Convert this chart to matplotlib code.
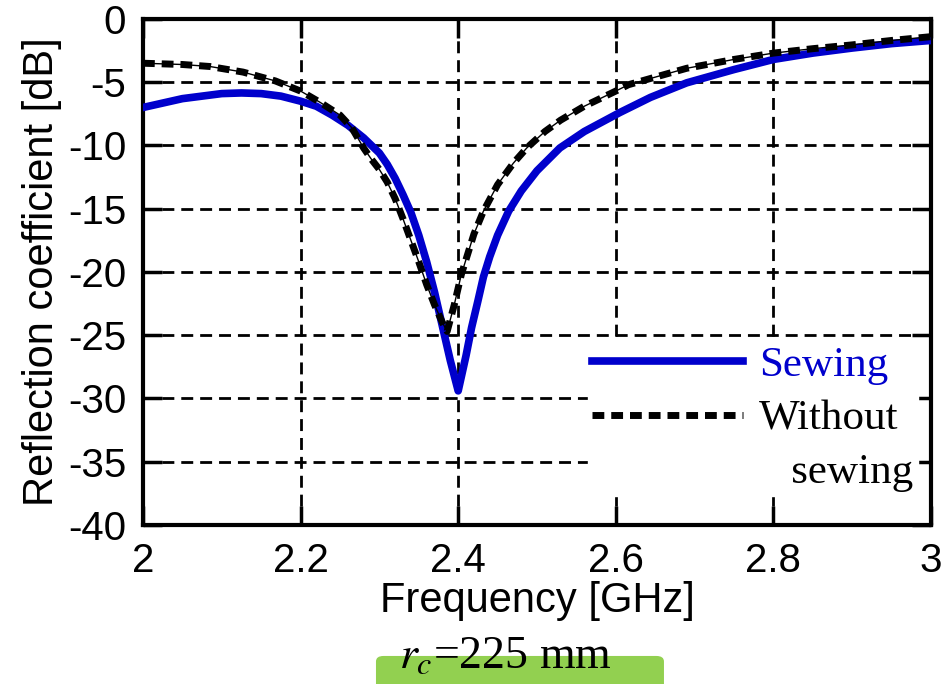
import matplotlib
matplotlib.use("Agg")
import matplotlib.pyplot as plt
from matplotlib.lines import Line2D
from matplotlib.patches import FancyBboxPatch

plt.rcParams["font.family"] = ["Liberation Sans", "DejaVu Sans"]
plt.rcParams["axes.unicode_minus"] = False
plt.rcParams["mathtext.fontset"] = "stix"

# sewing (blue, solid)
freq_sewing = [2.00, 2.05, 2.10, 2.125, 2.15, 2.175, 2.20, 2.22, 2.24, 2.26, 2.27,
               2.28, 2.29, 2.30, 2.31, 2.32, 2.33, 2.34, 2.35, 2.36, 2.37, 2.38,
               2.39, 2.40, 2.405, 2.41, 2.417, 2.425, 2.432, 2.44, 2.45, 2.464,
               2.48, 2.50, 2.529, 2.56, 2.605, 2.644, 2.69, 2.75, 2.80, 2.85,
               2.90, 2.95, 3.00]
s11_sewing = [-7.0, -6.3, -5.9, -5.85, -5.9, -6.1, -6.5, -6.9, -7.6, -8.4, -8.9,
              -9.4, -10.0, -10.6, -11.5, -12.6, -13.9, -15.3, -17.1, -19.2, -21.6, -24.3,
              -27.0, -29.4, -28.0, -26.6, -24.4, -22.3, -20.4, -18.8, -17.1, -15.2,
              -13.6, -12.0, -10.2, -8.9, -7.4, -6.2, -5.05, -4.0, -3.2, -2.7,
              -2.3, -1.95, -1.7]

# without sewing (black, dashed)
freq_plain = [2.00, 2.05, 2.085, 2.127, 2.168, 2.20, 2.225, 2.25, 2.265, 2.28, 2.29,
              2.30, 2.31, 2.32, 2.33, 2.34, 2.35, 2.36, 2.37, 2.38, 2.386, 2.395,
              2.404, 2.42, 2.432, 2.45, 2.47, 2.487, 2.51, 2.53, 2.56, 2.58,
              2.60, 2.616, 2.65, 2.69, 2.75, 2.80, 2.85, 2.90, 2.95, 3.00]
s11_plain = [-3.5, -3.6, -3.76, -4.2, -4.9, -5.7, -6.6, -7.6, -8.6, -10.2, -11.1,
             -11.9, -12.9, -14.2, -15.8, -17.5, -19.2, -21.0, -22.6, -24.0, -24.7, -22.6,
             -20.2, -17.0, -15.2, -13.1, -11.4, -10.2, -8.9, -8.0, -6.9, -6.3,
             -5.7, -5.2, -4.6, -3.9, -3.2, -2.7, -2.35, -2.05, -1.7, -1.4]

x_ticks = [2, 2.2, 2.4, 2.6, 2.8, 3]
x_labels = ["2", "2.2", "2.4", "2.6", "2.8", "3"]
y_ticks = [0, -5, -10, -15, -20, -25, -30, -35, -40]

blue = "#0000cc"

fig = plt.figure(figsize=(9.43, 6.84), dpi=100)
ax = fig.add_axes([0.1516, 0.2325, 0.8357, 0.7398])

ax.plot(freq_sewing, s11_sewing, color=blue, lw=5.5, zorder=3)
ax.plot(freq_plain, s11_plain, color="black", lw=1.0, zorder=4)
ax.plot(freq_plain, s11_plain, color="black", lw=5, linestyle=(0, (1.7, 1.0)), zorder=4)

ax.set_xlim(2, 3)
ax.set_ylim(-40, 0)
ax.set_xticks(x_ticks)
ax.set_xticklabels(x_labels)
ax.set_yticks(y_ticks)
ax.grid(True, color="black", lw=2, linestyle=(0, (4.3, 2.5)))
ax.tick_params(direction="in", length=14, width=2.5, labelsize=29,
               top=True, right=True, pad=12)
for sp in ax.spines.values():
    sp.set_linewidth(3)

ax.set_xlabel("Frequency [GHz]", fontsize=30, labelpad=1)
ax.set_ylabel("Reflection coefficient [dB]", fontsize=30, labelpad=4)

handles = [Line2D([], [], color=blue, lw=5.5),
           Line2D([], [], color="black", lw=5, linestyle=(0, (1.7, 1.0))),
           Line2D([], [], color="none")]
leg = ax.legend(handles, ["Sewing", "Without", "   sewing"],
                loc="upper left", bbox_to_anchor=(0.5647, 0.362),
                prop={"family": "Liberation Serif", "size": 31},
                frameon=True, framealpha=1, edgecolor="white", fancybox=False,
                borderpad=0.1, borderaxespad=0, handlelength=3.5,
                handletextpad=0.38, labelspacing=0.33)
leg.get_texts()[0].set_color(blue)
leg.set_zorder(5)

box = FancyBboxPatch((0.3987, -0.02), 0.3054, 0.061,
                     boxstyle="round,pad=0,rounding_size=0.008",
                     transform=fig.transFigure, facecolor="#92d050",
                     edgecolor="none")
fig.patches.append(box)
fig.text(0.5355, 0.024, r"$r_c$=225 mm", ha="center", va="baseline",
         fontsize=33, family="Liberation Serif")

fig.savefig("out.png", dpi=100)
